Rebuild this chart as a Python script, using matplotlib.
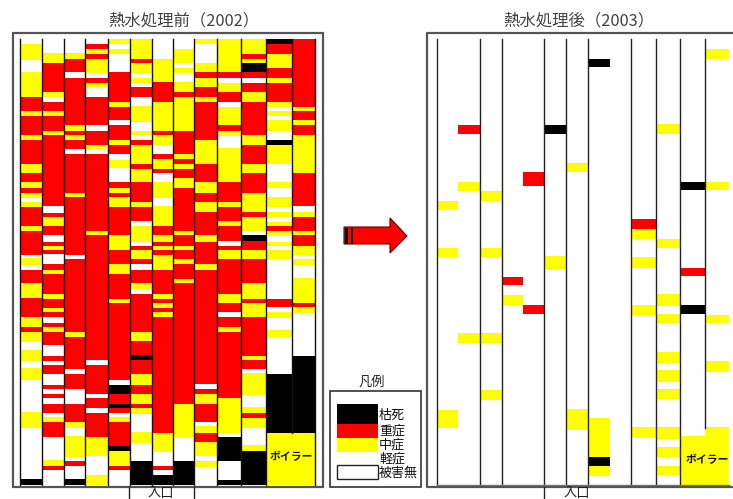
import matplotlib
matplotlib.use("Agg")
import matplotlib.pyplot as plt
from matplotlib.patches import Rectangle, Polygon

plt.rcParams['font.family'] = ['Noto Sans CJK JP', 'DejaVu Sans']

# Each entry: damage class + position along the row where that run ends.
before_01 = "W132 Y180 W215 Y290 R333 Y348 R405 Y420 R492 Y520 R547 Y565 R579 Y595 W605 Y620 R678 Y692 R764 W775 Y795 W810 R850 Y895 R950 Y982 R995 Y1025 W1050 Y1083 W1105 Y1140 W1237 Y1283 W1438 K1455".split()
before_02 = "W158 Y190 R275 Y292 W306 R333 Y348 R392 Y406 R618 W638 R651 Y678 R705 W725 R738 Y750 R762 W792 R810 Y823 R882 Y896 R923 Y937 R950 W968 R982 Y995 R1036 W1068 R1082 W1096 R1122 W1154 R1167 W1181 R1195 W1213 R1239 W1251 Y1267 R1311 W1380 Y1398 R1411 W1455".split()
before_03 = "W160 Y176 R217 W235 R375 Y392 R406 Y420 R447 W462 R578 Y592 R764 W778 R995 Y1010 R1108 W1123 R1167 W1212 R1267 Y1283 W1308 Y1370 W1384 R1398 W1438 K1455".split()
before_04 = "W132 R148 Y162 R176 Y220 W235 R248 Y262 W290 R375 W392 R434 Y448 W462 R692 Y706 R1081 W1095 R1181 W1195 R1225 W1239 R1311 Y1368 W1425 Y1455".split()
before_05 = "Y132 W148 Y162 W217 R306 Y320 R360 W375 R420 Y434 R461 W479 Y505 W547 R565 Y578 R592 Y620 R706 Y750 R792 Y823 R896 Y910 R1139 W1154 K1181 R1211 K1225 R1239 W1251 Y1267 R1339 K1353 Y1395 W1398 R1411 W1455".split()
before_06 = "Y176 R190 Y220 W233 Y248 W262 R290 W318 Y365 W392 Y406 W420 R434 Y492 R506 Y547 R606 Y620 R664 W678 Y725 W738 R750 Y778 R792 W810 R850 Y868 W882 R995 Y1023 R1066 K1081 R1123 Y1154 R1181 Y1211 R1225 Y1242 W1295 Y1328 W1384 K1455".split()
before_07 = "W176 Y245 R306 Y392 R406 Y434 W461 R478 Y506 R520 W545 Y595 W618 Y678 R706 Y725 R738 Y750 R764 Y810 R882 Y896 R910 Y923 R937 Y950 R1298 Y1355 W1398 R1411 W1425 K1455".split()
before_08 = "W148 Y190 W205 Y218 W245 Y275 R290 Y392 R461 Y478 R492 Y506 R533 Y565 R692 Y706 R738 Y750 R778 Y792 R837 Y850 R1212 Y1312 W1384 K1455".split()
before_09 = "Y132 W190 Y217 R234 Y262 R290 Y306 R420 Y492 R547 Y578 R606 Y637 R706 Y725 R792 Y810 R1153 W1167 R1181 Y1212 R1267 W1278 Y1298 R1325 Y1368 W1382 Y1402 W1455".split()
before_10 = "Y217 R234 W248 Y276 R306 W320 Y376 R392 Y408 W445 Y547 R606 Y620 R664 Y678 R723 W738 R750 Y778 R882 Y910 R937 W950 R982 Y995 R1195 Y1300 W1312 K1384 W1440 K1455".split()
before_11 = "Y162 R176 Y190 K217 R234 W248 R276 Y306 R406 Y434 R492 Y520 R578 Y637 R651 Y692 W706 K723 R750 Y778 R850 Y896 R910 Y950 R1068 Y1081 R1108 W1120 Y1185 W1220 Y1239 R1253 Y1285 W1335 Y1353 K1455".split()
before_12 = "K132 R162 Y204 R234 Y248 R306 Y320 W333 Y347 W360 Y392 W420 K434 Y492 W545 Y565 W590 Y622 W637 Y652 W665 Y678 R692 Y706 W725 Y738 W750 Y778 W896 R922 W935 Y954 W990 Y1012 W1122 K1298 Y1455".split()
before_13 = "R320 Y334 R360 Y376 R406 Y520 R618 W637 Y651 R692 Y706 R738 Y764 W778 Y795 W835 Y908 R922 Y938 W1068 K1298 Y1455".split()

after_01 = "W604 Y630 W745 Y770 W1230 Y1283 W1455".split()
after_02 = "W376 R403 W545 Y572 W1000 Y1028 W1455".split()
after_03 = "W572 Y603 W745 Y770 W1000 Y1028 W1170 Y1200 W1455".split()
after_04 = "W830 R856 W885 Y915 W1455".split()
after_05 = "W517 R558 W916 R942 W1455".split()
after_06 = "W376 K403 W768 Y807 W1455".split()
after_07 = "W490 Y517 W1228 Y1290 W1455".split()
after_08 = "W176 K202 W1255 Y1370 K1398 Y1427 W1455".split()
after_09 = "W1455".split()
after_10 = "W658 R688 Y717 W772 Y805 W916 Y946 W1282 Y1312 W1455".split()
after_11 = "W373 Y403 W717 Y745 W883 Y918 W942 Y970 W1055 Y1088 W1110 Y1146 W1168 Y1198 W1282 Y1316 W1342 Y1372 W1397 Y1425 W1455".split()
after_12 = "W545 K571 W803 R829 W916 K942 W1308 Y1455".split()
after_13 = "W146 Y176 W545 Y571 W945 Y970 W1083 Y1115 W1282 Y1455".split()

legend_labels = ["枯死", "重症", "中症", "軽症", "被害無"]
title_before = "熱水処理前（2002）"
title_after = "熱水処理後（2003）"
boiler_label = "ボイラー"
entrance_label = "入口"
legend_title = "凡例"

before_cols = [before_01, before_02, before_03, before_04, before_05, before_06, before_07,
               before_08, before_09, before_10, before_11, before_12, before_13]
after_cols = [after_01, after_02, after_03, after_04, after_05, after_06, after_07,
              after_08, after_09, after_10, after_11, after_12, after_13]

COLORS = {"K": "#000000", "R": "#ff0000", "Y": "#ffff00", "W": "#ffffff"}
W, H = 733, 499
ROW_MIN, ROW_MAX = 118, 1455
before_edges = [20, 42, 64, 85, 107.5, 129.5, 151.5, 173, 194, 217, 241, 266, 292, 315]
after_edges = [437, 458, 480, 502, 523, 544, 566, 588, 610, 631, 656, 680, 705, 729]
TOP_PX, BOT_PX = 39.3, 485

fig = plt.figure(figsize=(W / 100, H / 100), dpi=100, facecolor="white")


def panel(cols, edges):
    ax = fig.add_axes([edges[0] / W, 1 - BOT_PX / H, (edges[-1] - edges[0]) / W, (BOT_PX - TOP_PX) / H])
    ax.set_xlim(edges[0], edges[-1])
    ax.set_ylim(ROW_MAX, ROW_MIN)
    ax.axis("off")
    for i, runs in enumerate(cols):
        start = ROW_MIN
        for run in runs:
            cls, end = run[0], int(run[1:])
            ax.bar(edges[i], end - start, width=edges[i + 1] - edges[i], bottom=start,
                   align="edge", color=COLORS[cls], linewidth=0)
            start = end
    return ax


ax_l = panel(before_cols, before_edges)
ax_r = panel(after_cols, after_edges)

# column divider lines
for x in before_edges:
    ax_l.plot([x, x], [ROW_MIN, 1298 if x == 292 else ROW_MAX], color="#111111", lw=1.0, clip_on=False)
for x in (437, 480, 502, 544, 566, 588, 631, 656, 680, 705):
    end = 1285 if x == 705 else ROW_MAX
    ax_r.plot([x, x], [ROW_MIN, end], color="#222222", lw=1.0, clip_on=False)
ax_r.plot([437, 729], [ROW_MAX, ROW_MAX], color="#777777", lw=1.0, clip_on=False)

ax_l.text(291, 1372, boiler_label, ha="center", va="center", fontsize=7.8, fontweight="bold", color="#111111")
ax_r.text(707, 1380, boiler_label, ha="center", va="center", fontsize=7.8, fontweight="bold", color="#111111")

# overlay in pixel space for frames, arrow, legend and titles
ov = fig.add_axes([0, 0, 1, 1], facecolor="none")
ov.set_xlim(0, W)
ov.set_ylim(H, 0)
ov.axis("off")

FRAME = "#555555"
ov.add_patch(Rectangle((13, 33), 310, 453.5, fill=False, ec=FRAME, lw=1.6))
ov.plot([733, 427, 427, 733], [33, 33, 487, 487], color=FRAME, lw=1.6)

ov.text(108, 21, title_before, ha="left", va="center", fontsize=11.8, color="#444444")
ov.text(503, 21, title_after, ha="left", va="center", fontsize=11.8, color="#444444")

# entrance markers
for x in (129, 194, 544):
    ov.plot([x, x], [487, 499], color="#222222", lw=1.0)
ov.text(161, 493, entrance_label, ha="center", va="center", fontsize=9.5, color="#222222")
ov.text(577, 493, entrance_label, ha="center", va="center", fontsize=9.5, color="#222222")

# arrow
ov.add_patch(Polygon([(344, 227), (390, 227), (390, 218), (407, 236), (390, 253), (390, 244), (344, 244)],
                     closed=True, fc="#ff0000", ec="#660000", lw=0.8))
for x0, wd in ((345, 2.5), (350.5, 2.5)):
    ov.add_patch(Rectangle((x0, 227.5), wd, 16, fc="#000000", ec="none"))

# legend
ov.add_patch(Rectangle((330, 391), 90.7, 96, fc="white", ec="#333333", lw=1.2))
ov.text(372, 382, legend_title, ha="center", va="center", fontsize=9.5, color="#222222")
ov.add_patch(Rectangle((337, 404), 41, 20, fc="#000000", ec="none"))
ov.add_patch(Rectangle((337, 424), 41, 14, fc="#ff0000", ec="none"))
ov.add_patch(Rectangle((337, 438), 41, 14, fc="#ffff00", ec="none"))
ov.add_patch(Rectangle((337, 465), 41, 14, fc="white", ec="#222222", lw=1.0))
for label, y in zip(legend_labels, (415, 431, 445, 459, 473)):
    ov.text(379, y, label, ha="left", va="center", fontsize=9.4, color="#111111")

fig.savefig("out.png", dpi=100)
